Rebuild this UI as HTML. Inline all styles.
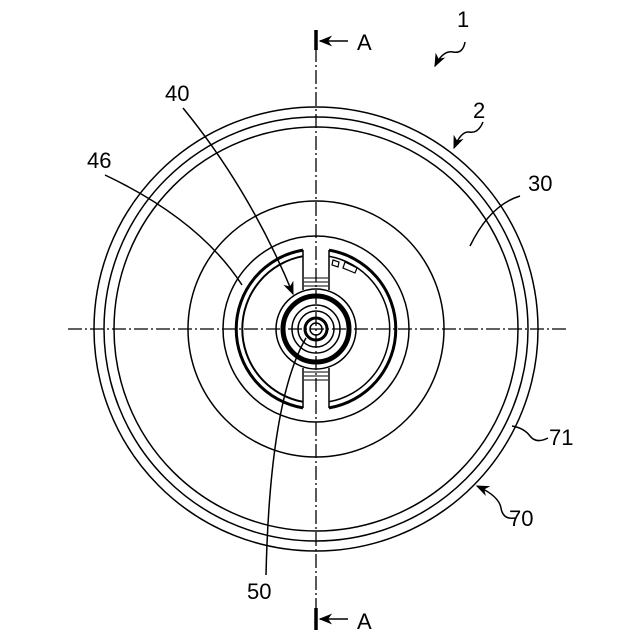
<!DOCTYPE html>
<html><head><style>body{margin:0;background:#fff}svg{display:block}text{font-family:"Liberation Sans",sans-serif;font-size:22px;fill:#000}</style></head>
<body>
<svg width="640" height="640" viewBox="0 0 640 640" xmlns="http://www.w3.org/2000/svg">
<defs>
<marker id="ar" viewBox="0 0 10 10" refX="9" refY="5" markerWidth="9" markerHeight="9" orient="auto"><path d="M0,1 L10,5 L0,9 L3,5 Z" fill="#000"/></marker>
</defs>
<g fill="none" stroke="#000" stroke-width="1.5">
<line x1="316" y1="48" x2="316" y2="612" stroke-dasharray="14,3,2,3" stroke-width="1.3"/>
<line x1="68" y1="329" x2="566" y2="329" stroke-dasharray="14,3,2,3" stroke-width="1.3"/>
<circle cx="316" cy="329" r="222"/>
<circle cx="316" cy="329" r="212"/>
<circle cx="316" cy="329" r="202"/>
<circle cx="316" cy="329" r="128"/>
<circle cx="316" cy="329" r="93"/>
<path d="M303,250.1 A80,80 0 0 0 303,407.9" stroke-width="3"/>
<path d="M329,250.1 A80,80 0 0 1 329,407.9" stroke-width="3"/>
<path d="M303,256.2 A74,74 0 0 0 303,401.8" stroke-width="2"/>
<path d="M329,256.2 A74,74 0 0 1 329,401.8" stroke-width="1.5"/>
<line x1="303" y1="250" x2="303" y2="290"/>
<line x1="329" y1="250" x2="329" y2="290"/>
<line x1="303" y1="368" x2="303" y2="408"/>
<line x1="329" y1="368" x2="329" y2="408"/>
<path d="M304,278 h24 M304,282 h24 M304,286 h24 M304,372 h24 M304,376 h24 M304,380 h24" stroke-width="1"/>
<path d="M333,260 l6,2 -1,5 -6,-2z M345,262 l12,6 -2,5 -12,-5z" stroke-width="1.2"/>
<circle cx="316" cy="329" r="40"/>
<circle cx="316" cy="329" r="33" stroke-width="5"/>
<circle cx="316" cy="329" r="24"/>
<circle cx="316" cy="329" r="18"/>
<circle cx="316" cy="329" r="11" stroke-width="3"/>
<circle cx="316" cy="329" r="6"/>
<path d="M183,108 Q250,190 293,294" marker-end="url(#ar)"/>
<path d="M105,175 Q200,220 242,285"/>
<path d="M266,575 Q270,400 306,338"/>
<path d="M520,196 Q490,205 470,246"/>
<path d="M483,122 q-5,12 -14,10 q-8,-1 -15,16" marker-end="url(#ar)"/>
<path d="M465,42 q-2,12 -12,10 q-10,-2 -18,14" marker-end="url(#ar)"/>
<path d="M548,438 q-12,6 -18,-2 q-6,-8 -18,-10"/>
<path d="M515,518 q-12,2 -14,-10 q-2,-12 -24,-22" marker-end="url(#ar)"/>
<line x1="316" y1="30" x2="316" y2="50" stroke-width="3.5"/>
<line x1="348" y1="41" x2="320" y2="41" marker-end="url(#ar)"/>
<line x1="316" y1="608" x2="316" y2="630" stroke-width="3.5"/>
<line x1="348" y1="619" x2="320" y2="619" marker-end="url(#ar)"/>
</g>
<text x="357" y="50">A</text>
<text x="357" y="629">A</text>
<text x="457" y="27">1</text>
<text x="473" y="118">2</text>
<text x="528" y="191">30</text>
<text x="165" y="101">40</text>
<text x="87" y="168">46</text>
<text x="247" y="599">50</text>
<text x="549" y="445">71</text>
<text x="509" y="526">70</text>
</svg>
</body></html>
